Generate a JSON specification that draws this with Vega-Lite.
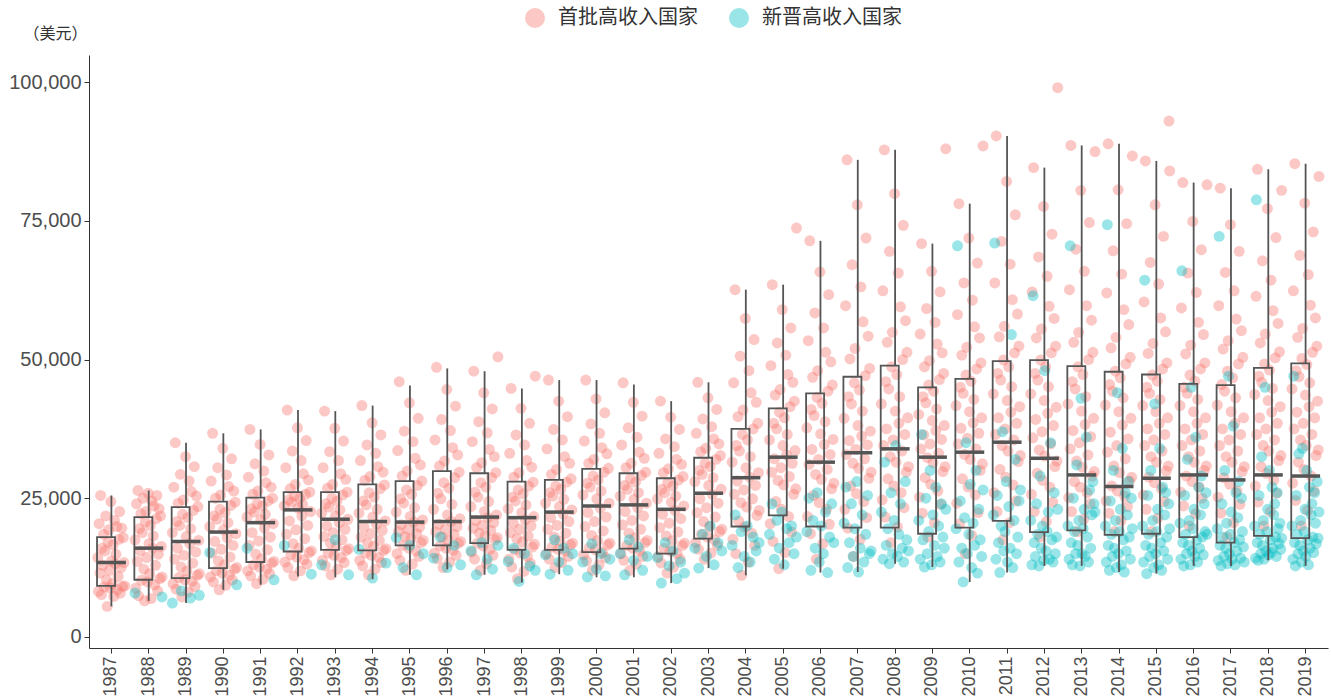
{
"$schema":"https://vega.github.io/schema/vega-lite/v6.json",
"width":1239,"height":593,
"autosize":{"type":"none"},
"padding":{"left":89,"top":55,"right":3,"bottom":49},
"background":"white",
"config":{"view":{"stroke":null},"font":"Liberation Sans",
"axis":{"domainColor":"#333333","tickColor":"#333333","labelColor":"#4d4d4d","labelFont":"Liberation Sans","grid":false,"tickSize":5}},
"datasets":{
"pts":[
{"year":"1987","g":"首批高收入国家","v":[14300,8200,20400,11500,25500,7600,16000,12900,18500,9000,15500,21800,10300,5500,17100,19300,12000,8800,24400,13700,9600,16600,7300,21000,13200,14900,19900,8500,10900,17600,22600,7900,12500,19600,9100,17900,13400,9200]},
{"year":"1988","g":"首批高收入国家","v":[17500,8800,24000,13600,26400,7400,19500,15500,22200,10200,18800,25000,12200,6500,20700,22600,14300,9900,25900,16800,11400,20100,6900,24500,16000,18200,23600,9400,12900,21300,25500,8300,14900,23100,10500,21800,16300,10800]},
{"year":"1989","g":"首批高收入国家","v":[18800,9600,27000,14000,35000,8600,20800,16000,24100,10700,20100,29300,12600,7200,22100,24700,14700,10300,32500,18100,11900,21500,8100,28100,16800,19500,26200,10000,13300,22800,30700,9100,15300,25400,11100,23500,17400,11400]},
{"year":"1990","g":"首批高收入国家","v":[19900,10800,28100,15100,36700,9900,21800,17200,25000,11900,21200,30500,13700,8500,23000,25600,15800,11500,34000,19300,13000,22400,9300,29200,17900,20600,27100,11100,14400,23700,32100,10300,16500,26300,12200,24300,18600,12500]},
{"year":"1991","g":"首批高收入国家","v":[21600,11900,28800,16500,37400,11000,23100,18800,25700,13000,22500,31200,14900,9600,24000,26300,17300,12600,34700,21100,14100,23600,10400,29900,19600,22100,27800,12200,15700,24500,32800,11400,18000,27000,13300,25000,20400,13600]},
{"year":"1992","g":"首批高收入国家","v":[23600,13500,30500,18500,40900,12500,24700,20900,26700,14800,24300,33500,16800,11000,25400,27500,19300,14400,37700,23200,16000,25000,11900,31800,21800,23900,29400,13900,17700,25700,35400,13100,20100,28300,15200,26100,22600,15500]},
{"year":"1993","g":"首批高收入国家","v":[22300,13800,30500,18100,40700,12800,24000,20000,26800,15100,23400,33400,16900,11200,25000,27500,18800,14700,37600,21800,16300,24500,12200,31800,20600,22900,29400,14300,17500,25600,35300,13400,19400,28400,15600,26100,21200,15900]},
{"year":"1994","g":"首批高收入国家","v":[22300,13800,31800,18000,41700,12800,24500,19800,28200,15100,23800,34600,16900,11200,26000,28900,18600,14700,38600,21600,16300,25200,12200,33100,20300,23000,30700,14300,17400,26700,36400,13400,19200,29700,15600,27400,20900,15900]},
{"year":"1995","g":"首批高收入国家","v":[22500,15000,33600,19000,46000,13800,24900,20200,29000,16500,24100,37100,18100,12000,26500,29900,19400,16000,42200,21700,17700,25700,13100,35200,20700,23300,32200,15500,18600,27300,39400,14500,19800,31000,17000,28100,21100,17400]},
{"year":"1996","g":"首批高收入国家","v":[23000,15100,35500,18900,48600,14100,25900,20300,30800,16400,24900,39200,18000,12500,27800,31700,19400,16000,44600,22000,17500,26800,13500,37200,20800,23900,34100,15600,18500,28700,41600,14700,19900,32800,16900,29700,21300,17200]},
{"year":"1997","g":"首批高收入国家","v":[23500,15300,35200,19600,47900,14000,26100,21000,30500,16900,25200,38800,18700,12000,27800,31400,20100,16400,44000,22600,18200,27000,13200,36800,21500,24400,33800,15800,19200,28700,41100,14700,20600,32500,17500,29600,22000,17900,50500]},
{"year":"1998","g":"首批高收入国家","v":[23100,14000,33100,18800,44800,12600,25200,20500,28800,15700,24500,36400,17700,10500,26500,29600,19400,15100,41200,22400,17100,25800,11800,34600,21100,23800,31800,14500,18200,27200,38500,13300,20000,30600,16200,27900,21700,16700,47000]},
{"year":"1999","g":"首批高收入国家","v":[24100,15000,33900,19400,46300,14000,26000,21500,29300,16200,25400,37400,18000,12500,27200,30200,20100,15800,42500,23500,17300,26600,13400,35500,22200,24800,32500,15400,18700,27900,39700,14500,20800,31300,16600,28500,22900,16900]},
{"year":"2000","g":"首批高收入国家","v":[25600,14800,35300,19900,46300,13700,27700,22400,31300,16100,27000,38400,18300,12000,29000,32000,20800,15700,42900,24900,17400,28300,13000,36700,23200,26300,34100,15200,19100,29700,40400,14300,21600,33000,16600,30400,24100,16900]},
{"year":"2001","g":"首批高收入国家","v":[25400,15000,34600,20200,45800,13800,27300,22600,30500,16500,26600,37700,18700,12000,28500,31300,21000,16000,42300,24800,17900,27900,13100,36000,23300,26000,33300,15500,19400,29100,39800,14500,21800,32200,17000,29700,24100,17400]},
{"year":"2002","g":"首批高收入国家","v":[24900,14500,33100,19700,42500,13300,26600,22100,29600,16000,26000,35700,18200,11500,27800,30300,20500,15500,39600,24300,17400,27200,12600,34300,22800,25400,32000,15000,18900,28300,37400,14000,21300,31100,16500,28900,23600,16900]},
{"year":"2003","g":"首批高收入国家","v":[28000,17000,36700,22400,45900,15800,30000,24900,33400,18500,29300,39300,20800,14000,31300,34000,23300,18000,43100,27300,19900,30700,15100,37900,25700,28700,35700,17500,21600,32000,41000,16500,24100,34800,19000,32700,26600,19400]},
{"year":"2004","g":"首批高收入国家","v":[31500,17600,45800,25700,62600,15000,34500,28100,39700,20900,33500,50600,24200,11100,36500,40900,26500,19800,57400,30500,23400,35500,13500,48000,28800,32500,44000,18700,24900,37500,53600,16500,27300,42300,21900,38500,29600,22800]},
{"year":"2005","g":"首批高收入国家","v":[35500,20400,48900,29700,63500,17200,38500,32100,43600,24400,37500,53000,28200,12300,40500,44600,30500,23000,59000,34500,27400,39500,15200,50800,32800,36500,47300,21700,28900,41500,55700,18900,31300,45900,25700,42500,33600,26700,73700]},
{"year":"2006","g":"首批高收入国家","v":[37700,21700,53400,31100,71400,18600,41000,33800,46800,25500,39900,58400,29300,14000,43200,48000,32000,24200,65800,36600,28400,42100,16800,55700,34700,38800,51300,23000,30200,44300,61700,20300,32900,49600,26700,45400,35600,27700]},
{"year":"2007","g":"首批高收入国家","v":[39400,23000,59700,32900,86000,19600,43300,35400,50100,27200,42000,67100,31300,14500,45800,52000,33800,25800,77900,38100,30400,44500,17600,63100,36200,40700,56800,24400,32100,47100,71900,21500,34600,54200,28600,48400,37100,29700]},
{"year":"2008","g":"首批高收入国家","v":[42000,24700,62400,34500,87800,21600,46000,37500,53100,28500,44700,69500,32500,17000,48700,54900,35500,27200,79900,40700,31500,47300,19800,65600,38500,43300,59500,26000,33500,50000,74200,23300,36500,57000,29700,51300,39500,30700]},
{"year":"2009","g":"首批高收入国家","v":[40100,25200,54600,33900,70900,22300,43300,36400,48700,28700,42200,59200,32300,18000,45400,49800,34800,27500,65900,39000,31400,44300,20600,56700,37200,41100,52800,26300,33100,46400,62200,23900,35600,51200,29800,47500,38100,30700,88000]},
{"year":"2010","g":"首批高收入国家","v":[41700,24100,58100,34800,78100,20400,45000,37600,50800,28500,43900,63800,32900,15000,47200,52200,35800,27000,71900,40600,32000,46100,18300,60700,38600,42800,55900,25600,33900,48300,67400,22400,36700,53900,30000,49400,39500,31200,88500]},
{"year":"2011","g":"首批高收入国家","v":[43800,26000,63800,36500,90300,22600,47500,39500,54100,30200,46300,71300,34500,17500,49900,56000,37500,28800,82100,42600,33500,48700,20600,67200,40500,45100,60800,27400,35500,51200,76100,24500,38500,58200,31600,52400,41500,32700]},
{"year":"2012","g":"首批高收入国家","v":[43800,25700,62200,35900,84600,22600,47500,39200,53900,29500,46300,68500,33700,18000,49900,55500,37000,28200,77600,42600,32600,48700,20800,65000,40300,45100,59600,27000,34800,51200,72600,24300,38100,57400,30700,52400,41400,31700,99000]},
{"year":"2013","g":"首批高收入国家","v":[42000,25100,62600,33900,88600,22600,46000,37200,53100,28000,44700,69900,31700,19000,48700,54900,35000,27000,80500,40700,30600,47300,21200,65900,38300,43300,59700,26000,32800,50000,74700,24000,36100,57100,29000,51300,39400,29800,87500]},
{"year":"2014","g":"首批高收入国家","v":[41800,24500,62000,33300,88900,22300,45500,36900,52100,27200,44300,69600,30800,19000,47900,54000,34500,26300,80600,40600,29600,46700,21000,65400,38200,43100,59000,25400,32100,49200,74500,23500,35700,56300,28100,50400,39400,28800,86700]},
{"year":"2015","g":"首批高收入国家","v":[41700,25600,60400,34500,85800,23000,45000,37500,51100,28800,43900,67500,32500,19000,47200,52900,35500,27800,77900,40600,31500,46100,21400,63600,38500,42800,57500,26700,33500,48300,72200,24400,36500,55000,29900,49400,39500,30800,93000,84000]},
{"year":"2016","g":"首批高收入国家","v":[41700,26100,59300,34500,81900,23600,45000,37500,51000,29000,43900,65600,32500,20000,47200,52600,35500,28000,74900,40600,31500,46100,22200,62100,38500,42800,56700,27000,33500,48300,69800,25000,36500,54500,30000,49400,39500,30800,81500]},
{"year":"2017","g":"首批高收入国家","v":[41800,25200,59700,34500,80900,22300,45500,37500,51900,28700,44300,65700,32500,18000,47900,53400,35500,27500,74300,40600,31500,46700,20600,62400,38500,43100,57300,26300,33500,49200,69500,23900,36500,55200,29800,50400,39500,30700]},
{"year":"2018","g":"首批高收入国家","v":[43700,27200,61400,36500,84300,24300,47000,39500,53000,30700,45900,67800,34500,20000,49200,54600,37500,29500,77200,42600,33500,48100,22600,64300,40500,44800,58800,28300,35500,50300,72000,25900,38500,56500,31800,51400,41500,32700,80500]},
{"year":"2019","g":"首批高收入国家","v":[44700,27700,62400,37500,85300,24600,48000,40500,54000,31500,46900,68800,35500,20000,50200,55600,38500,30200,78200,43600,34500,49100,22800,65300,41500,45800,59800,29000,36500,51300,73000,26300,39500,57500,32700,52400,42500,33700,83000]},
{"year":"1988","g":"新晋高收入国家","v":[7900,7200]},
{"year":"1989","g":"新晋高收入国家","v":[6100,8300,7000,7500]},
{"year":"1990","g":"新晋高收入国家","v":[15200,9400]},
{"year":"1991","g":"新晋高收入国家","v":[16000,10300]},
{"year":"1992","g":"新晋高收入国家","v":[16500,11300]},
{"year":"1993","g":"新晋高收入国家","v":[13000,17500,11200]},
{"year":"1994","g":"新晋高收入国家","v":[15800,10600,13300]},
{"year":"1995","g":"新晋高收入国家","v":[17900,12500,16500,11200,15000]},
{"year":"1996","g":"新晋高收入国家","v":[14200,18000,12500,16500,13000]},
{"year":"1997","g":"新晋高收入国家","v":[15500,11200,17000,14000,12200,16500]},
{"year":"1998","g":"新晋高收入国家","v":[13600,16000,10000,15000,12800,12000]},
{"year":"1999","g":"新晋高收入国家","v":[14800,11300,17500,13500,16000,12000,15000]},
{"year":"2000","g":"新晋高收入国家","v":[13500,10800,16800,12200,15000,11000,14000]},
{"year":"2001","g":"新晋高收入国家","v":[15000,11200,17500,13800,16200,12000,14500]},
{"year":"2002","g":"新晋高收入国家","v":[14300,9700,17000,12800,15500,10500,13500,11500]},
{"year":"2003","g":"新晋高收入国家","v":[16000,12400,18500,14500,20000,13000,17000,15500]},
{"year":"2004","g":"新晋高收入国家","v":[16500,22000,12500,19000,14500,20000,13500,18000,15500,17000]},
{"year":"2005","g":"新晋高收入国家","v":[18500,24000,14000,21000,16000,22500,13000,19500,17000,20000,15000,18000]},
{"year":"2006","g":"新晋高收入国家","v":[19000,25000,12000,21000,16000,26000,13500,20000,15000,22500,11600,18000,24000,17000]},
{"year":"2007","g":"新晋高收入国家","v":[20500,27000,12500,17000,24000,14500,19500,28000,11700,16000,22000,13500,18500,25500,15000,15500]},
{"year":"2008","g":"新晋高收入国家","v":[22500,14000,31500,16500,19500,13200,26000,15000,21000,34500,14500,18500,24000,16000,13500,28000,17500,15500]},
{"year":"2009","g":"新晋高收入国家","v":[21000,14000,36500,17500,12600,25000,15000,19000,30000,13000,22000,16500,27000,14500,20000,13500,24000,18000,16000,23000]},
{"year":"2010","g":"新晋高收入国家","v":[19500,70500,13500,24500,16000,9900,21500,35000,15000,18500,27500,12500,20500,16500,30000,11500,23000,17500,14500,26500]},
{"year":"2011","g":"新晋高收入国家","v":[22000,71000,14000,25500,17000,11600,20000,37000,15500,19000,28000,13500,23500,16000,54500,12500,21000,32000,15000,18000,24500,26500]},
{"year":"2012","g":"新晋高收入国家","v":[21000,13000,61500,17000,14500,24000,18500,12800,29000,16000,20000,13800,48000,15500,19000,22500,14000,35000,17500,13500,26000,15000,18000,23000]},
{"year":"2013","g":"新晋高收入国家","v":[20000,14000,70500,17000,13000,25000,19000,15000,31000,16500,21000,12800,43000,15000,19500,23000,14500,36000,18000,13500,26500,16000,22000,28000,24000,22500]},
{"year":"2014","g":"新晋高收入国家","v":[20000,13500,74300,16500,12000,24500,18500,14500,30000,16000,21000,12500,44000,15000,19000,23000,13000,34000,17500,11700,26000,15500,22000,28000,18000,14000,25000,19500]},
{"year":"2015","g":"新晋高收入国家","v":[20000,13500,64300,16500,11400,25500,18500,14500,30000,16000,21000,12500,42000,15000,19000,23000,13000,34000,17000,12000,27000,15500,22000,26000,18000,14000,24000,19500]},
{"year":"2016","g":"新晋高收入国家","v":[20500,14000,66000,17000,12800,25500,18500,15000,32000,16500,21000,13000,45000,15500,19500,23000,14500,36000,17500,13500,27000,16000,22000,29000,18000,14800,24000,19000,26000,18500]},
{"year":"2017","g":"新晋高收入国家","v":[19500,13800,72200,16500,12800,24000,18000,14500,30000,16000,20500,13200,47000,15000,18500,22500,14000,38000,17000,13000,26000,15500,21500,28000,17500,14200,25000,19000,16200,13500]},
{"year":"2018","g":"新晋高收入国家","v":[20000,14200,78800,17000,13800,25500,18500,15000,32500,16500,21000,14000,45000,15500,19000,23000,14800,30000,17500,15200,27000,16000,22000,24000,18000,14500,26000,19500,16800,20500,15800,17800]},
{"year":"2019","g":"新晋高收入国家","v":[20000,14000,47000,17000,12800,25500,18500,15000,33000,16500,21000,13500,34000,15500,19000,23000,14500,30000,17500,13000,27000,16000,22000,24000,18000,15200,26000,20500,16800,28000,17800,22500]}
],
"box":[
{"year":"1987","lo":5500,"q1":9200,"med":13400,"q3":18000,"hi":25500},
{"year":"1988","lo":6500,"q1":10300,"med":16000,"q3":21600,"hi":26400},
{"year":"1989","lo":6100,"q1":10600,"med":17200,"q3":23400,"hi":35000},
{"year":"1990","lo":8500,"q1":12400,"med":18900,"q3":24400,"hi":36700},
{"year":"1991","lo":9400,"q1":13500,"med":20600,"q3":25100,"hi":37400},
{"year":"1992","lo":10900,"q1":15400,"med":22900,"q3":26100,"hi":40900},
{"year":"1993","lo":10750,"q1":15700,"med":21200,"q3":26100,"hi":40700},
{"year":"1994","lo":10400,"q1":15600,"med":20800,"q3":27500,"hi":41700},
{"year":"1995","lo":11200,"q1":16500,"med":20700,"q3":28100,"hi":45300},
{"year":"1996","lo":12200,"q1":16500,"med":20800,"q3":29900,"hi":48400},
{"year":"1997","lo":11200,"q1":16900,"med":21600,"q3":29500,"hi":47900},
{"year":"1998","lo":9800,"q1":15700,"med":21500,"q3":28000,"hi":44800},
{"year":"1999","lo":11300,"q1":15700,"med":22500,"q3":28300,"hi":46300},
{"year":"2000","lo":10750,"q1":15300,"med":23600,"q3":30300,"hi":46300},
{"year":"2001","lo":10750,"q1":15900,"med":23800,"q3":29500,"hi":45500},
{"year":"2002","lo":9700,"q1":15000,"med":23000,"q3":28600,"hi":42500},
{"year":"2003","lo":12400,"q1":17700,"med":25900,"q3":32300,"hi":45900},
{"year":"2004","lo":11100,"q1":19900,"med":28700,"q3":37500,"hi":62600},
{"year":"2005","lo":12300,"q1":21900,"med":32400,"q3":41200,"hi":63500},
{"year":"2006","lo":11600,"q1":19900,"med":31500,"q3":43900,"hi":71400},
{"year":"2007","lo":11700,"q1":19700,"med":33200,"q3":46900,"hi":86000},
{"year":"2008","lo":13200,"q1":19700,"med":33900,"q3":48900,"hi":87800},
{"year":"2009","lo":12600,"q1":18600,"med":32400,"q3":45000,"hi":70900},
{"year":"2010","lo":9900,"q1":19700,"med":33300,"q3":46500,"hi":78100},
{"year":"2011","lo":11600,"q1":20900,"med":35100,"q3":49700,"hi":90300},
{"year":"2012","lo":12800,"q1":18900,"med":32200,"q3":49900,"hi":84600},
{"year":"2013","lo":12800,"q1":19200,"med":29200,"q3":48800,"hi":88600},
{"year":"2014","lo":11700,"q1":18400,"med":27100,"q3":47800,"hi":88900},
{"year":"2015","lo":11400,"q1":18600,"med":28600,"q3":47300,"hi":85800},
{"year":"2016","lo":12800,"q1":18000,"med":29200,"q3":45600,"hi":81900},
{"year":"2017","lo":12800,"q1":17000,"med":28300,"q3":45400,"hi":80900},
{"year":"2018","lo":13800,"q1":18200,"med":29200,"q3":48500,"hi":84300},
{"year":"2019","lo":12800,"q1":17800,"med":29000,"q3":49300,"hi":85300}
]},
"layer":[
{"data":{"name":"pts"},
"transform":[{"flatten":["v"]},{"window":[{"op":"percent_rank","as":"p"}],"groupby":["year","g"]}],
"mark":{"type":"circle","size":120,"opacity":0.4},
"encoding":{
"x":{"field":"year","type":"ordinal","scale":{"type":"band","paddingInner":0,"paddingOuter":0.1},
"axis":{"title":null,"labelAngle":-90,"labelFontSize":18,"labelPadding":3}},
"xOffset":{"field":"p","type":"quantitative","scale":{"domain":[0,1],"range":[5,32]}},
"y":{"field":"v","type":"quantitative","scale":{"domain":[-2000,104900],"nice":false,"zero":false},
"axis":{"values":[0,25000,50000,75000,100000],"format":",.0f","labelFontSize":20,"labelPadding":3,
"title":"（美元）","titleAngle":0,"titleX":-34,"titleY":-22,"titleAlign":"center","titleBaseline":"middle",
"titleFont":"Noto Sans CJK SC","titleFontSize":16,"titleFontWeight":"normal","titleColor":"#333333"}},
"color":{"field":"g","type":"nominal","scale":{"domain":["首批高收入国家","新晋高收入国家"],"range":["#F8766D","#00BFC4"]},
"legend":{"title":null,"orient":"none","legendX":436,"legendY":-47,"direction":"horizontal","symbolType":"circle","symbolSize":400,"symbolOpacity":0.4,"symbolStrokeWidth":0,
"labelFont":"Noto Sans CJK SC","labelFontSize":20,"labelColor":"#333333","labelOffset":13,"columnPadding":31,"padding":0}}
}},
{"data":{"name":"box"},"mark":{"type":"rule","color":"#555555","strokeWidth":1.8},
"encoding":{"x":{"field":"year","type":"ordinal"},"y":{"field":"lo","type":"quantitative"},"y2":{"field":"q1"}}},
{"data":{"name":"box"},"mark":{"type":"rule","color":"#555555","strokeWidth":1.8},
"encoding":{"x":{"field":"year","type":"ordinal"},"y":{"field":"q3","type":"quantitative"},"y2":{"field":"hi"}}},
{"data":{"name":"box"},"mark":{"type":"bar","width":{"band":0.77},"fill":"transparent","stroke":"#555555","strokeWidth":1.8},
"encoding":{"x":{"field":"year","type":"ordinal"},"y":{"field":"q1","type":"quantitative"},"y2":{"field":"q3"}}},
{"data":{"name":"box"},"mark":{"type":"tick","color":"#555555","thickness":3.5,"size":29,"opacity":1},
"encoding":{"x":{"field":"year","type":"ordinal"},"y":{"field":"med","type":"quantitative"}}}
]
}
